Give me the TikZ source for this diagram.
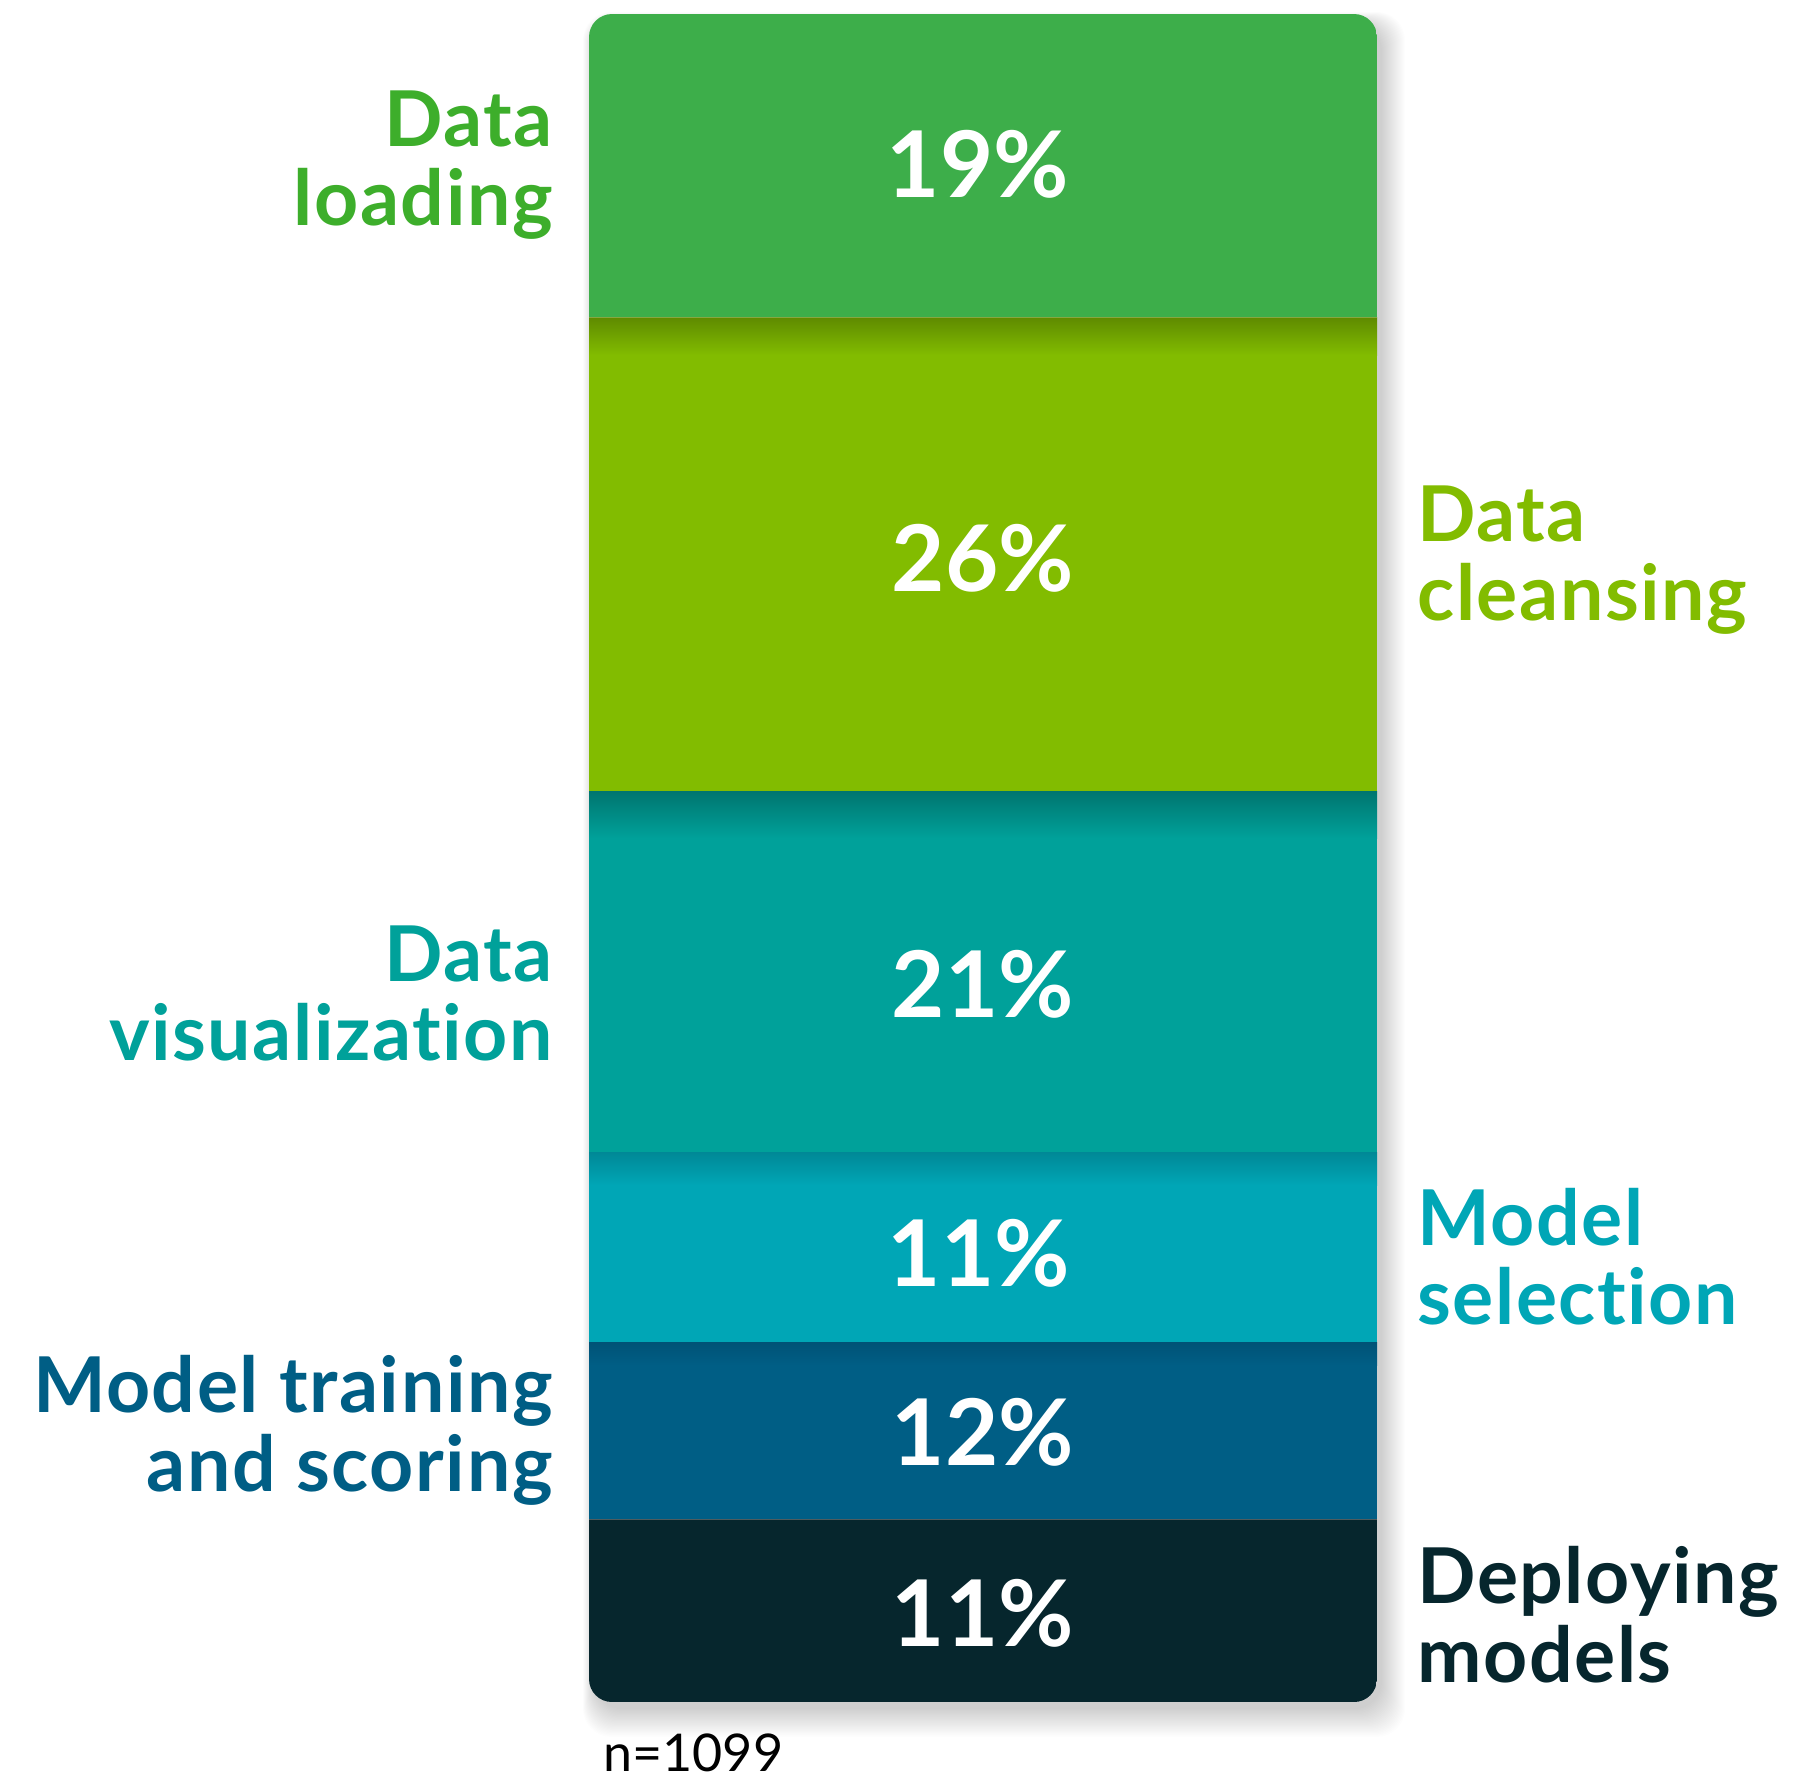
\documentclass[tikz,border=0pt]{standalone}
\usepackage{fontspec}
\setmainfont{Lato}[Ligatures=NoCommon]
\definecolor{cGreen}{HTML}{3DAE4A}
\definecolor{cGreenT}{HTML}{3DAE2B}
\definecolor{cLime}{HTML}{82BC00}
\definecolor{cLimeD}{HTML}{5E8A00}
\definecolor{cTeal}{HTML}{00A19A}
\definecolor{cTealD}{HTML}{00756F}
\definecolor{cCyan}{HTML}{00A6B6}
\definecolor{cCyanD}{HTML}{008896}
\definecolor{cBlue}{HTML}{005E85}
\definecolor{cBlueD}{HTML}{005276}
\definecolor{cDark}{HTML}{06262D}
\tikzset{
  pct/.style={text=white, font=\fontsize{46}{50}\selectfont\bfseries, inner sep=0pt},
  lblL/.style={align=right, anchor=base east, inner sep=0pt, font=\fontsize{38.5}{39.5}\selectfont\bfseries\addfontfeature{LetterSpace=2}},
  lblR/.style={align=left, anchor=base west, inner sep=0pt, font=\fontsize{38.5}{39.5}\selectfont\bfseries\addfontfeature{LetterSpace=2}},
}
\begin{document}
\begin{tikzpicture}[x=0.5pt,y=-0.5pt]
\useasboundingbox (0,0) rectangle (1794,1779);
% drop shadow
\foreach \i in {1,...,24}{
  \fill[black,opacity=0.009,rounded corners=14pt] (589+6-\i*0.5,14+10-\i*0.5) rectangle (1377+4+\i*1.0,1702+6+\i*1.2);
}
\begin{scope}
\clip[rounded corners=11.5pt] (589,14) rectangle (1377,1702);
\fill[cGreen] (589,14) rectangle (1377,317);
\fill[cLime] (589,317) rectangle (1377,791);
\shade[top color=cLimeD, bottom color=cLime] (589,317) rectangle (1377,355);
\fill[cTeal] (589,791) rectangle (1377,1152);
\shade[top color=cTealD, bottom color=cTeal] (589,791) rectangle (1377,838);
\fill[cCyan] (589,1152) rectangle (1377,1342);
\shade[top color=cCyanD, bottom color=cCyan] (589,1152) rectangle (1377,1185);
\fill[cBlue] (589,1342) rectangle (1377,1519);
\shade[top color=cBlueD, bottom color=cBlue] (589,1342) rectangle (1377,1365);
\fill[cDark] (589,1519) rectangle (1377,1702);
\draw[white,opacity=0.25,line width=0.5pt] (589,317) -- (1377,317);
\draw[gray,opacity=0.6,line width=0.5pt] (589,1519) -- (1377,1519);
\end{scope}
% percentages
\node[pct] (p1) at (978,164) {19\%};
\node[pct] (p2) at (983,558) {26\%};
\node[pct] (p3) at (983,984) {21\%};
\node[pct] (p4) at (979,1253) {11\%};
\node[pct] (p5) at (983,1432) {12\%};
\node[pct] (p6) at (983,1613) {11\%};
% labels (anchor = baseline of last line)
\node[lblL, text=cGreenT] (l1) at (553,225) {Data\\loading};
\node[lblR, text=cLime] (l2) at (1417,620) {Data\\cleansing};
\node[lblL, text=cTeal] (l3) at (553,1060) {Data\\visualization};
\node[lblR, text=cCyan] (l4) at (1417,1324) {Model\\selection};
\node[lblL, text=cBlue] (l5) at (553,1491) {Model training\\and scoring};
\node[lblR, text=cDark] (l6) at (1417,1682) {Deploying\\models};
\node[anchor=base west, inner sep=0pt, font=\fontsize{26}{28}\selectfont] (n) at (603,1771) {n=1099};
\end{tikzpicture}
\end{document}
